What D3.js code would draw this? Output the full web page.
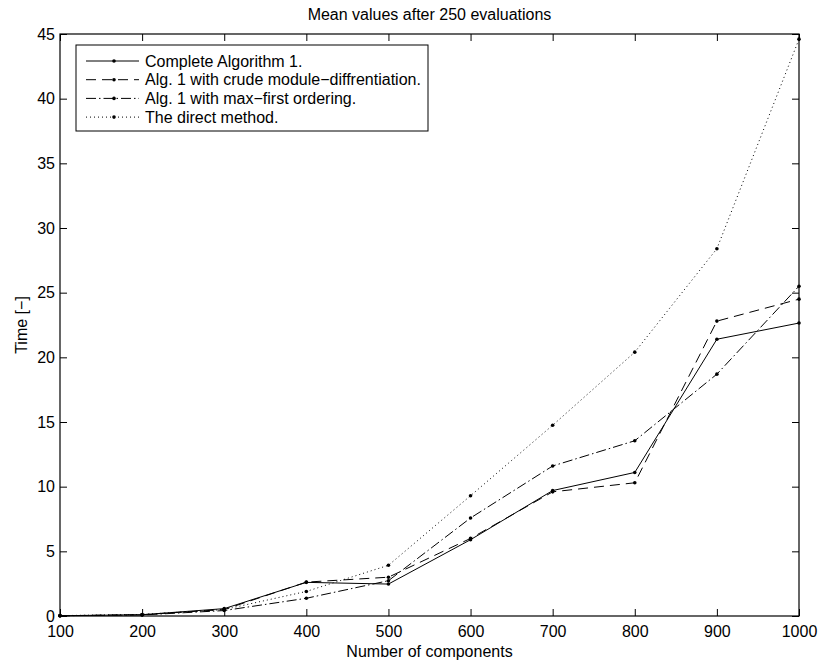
<!DOCTYPE html>
<html>
<head>
<meta charset="utf-8">
<script src="https://cdn.jsdelivr.net/npm/d3@7"></script>
<style>
  html, body { margin: 0; padding: 0; background: #fff; }
  svg { display: block; font-family: "Liberation Sans", Arial, Helvetica, sans-serif; }
</style>
</head>
<body>
<svg id="chart" width="820" height="666"></svg>
<script>
// Problem sizes (number of components)
const components = [100, 200, 300, 400, 500, 600, 700, 800, 900, 1000];

// Mean run times [-] for each method
const completeAlg = [0.02, 0.10, 0.57, 2.60, 2.47, 5.90, 9.70, 11.10, 21.40, 22.65];
const crudeModule = [0.02, 0.10, 0.50, 2.62, 3.00, 6.00, 9.60, 10.30, 22.80, 24.50];
const maxFirst    = [0.02, 0.08, 0.42, 1.37, 2.73, 7.58, 11.60, 13.55, 18.70, 25.50];
const directMethod = [0.03, 0.12, 0.50, 1.90, 3.92, 9.30, 14.75, 20.40, 28.40, 44.60];

const seriesNames = [
  "Complete Algorithm 1.",
  "Alg. 1 with crude module\u2212diffrentiation.",
  "Alg. 1 with max\u2212first ordering.",
  "The direct method."
];

const xTicks = [100, 200, 300, 400, 500, 600, 700, 800, 900, 1000];
const yTicks = [0, 5, 10, 15, 20, 25, 30, 35, 40, 45];

const titleText = "Mean values after 250 evaluations";
const xLabel = "Number of components";
const yLabel = "Time [\u2212]";

const series = [
  { name: seriesNames[0], values: completeAlg, dash: null },
  { name: seriesNames[1], values: crudeModule, dash: "10,6" },
  { name: seriesNames[2], values: maxFirst, dash: "10,3,1.5,3" },
  { name: seriesNames[3], values: directMethod, dash: "1,3" }
];

const svg = d3.select("#chart");
const margin = { left: 60, right: 21, top: 34, bottom: 50 };
const W = 820, H = 666;
const x = d3.scaleLinear().domain([100, 1000]).range([margin.left, W - margin.right]);
const y = d3.scaleLinear().domain([0, 45]).range([H - margin.bottom, margin.top]);

svg.append("rect").attr("width", W).attr("height", H).attr("fill", "#fff");

// Axes with inward ticks on all four sides
const tickLen = 7;
const fontSize = 16;
const axB = svg.append("g").attr("transform", `translate(0,${y(0)})`)
  .call(d3.axisBottom(x).tickValues(xTicks).tickSizeInner(-tickLen).tickSizeOuter(0).tickPadding(10).tickFormat(d3.format("d")));
const axT = svg.append("g").attr("transform", `translate(0,${y(45)})`)
  .call(d3.axisTop(x).tickValues(xTicks).tickSizeInner(-tickLen).tickSizeOuter(0).tickFormat(""));
const axL = svg.append("g").attr("transform", `translate(${x(100)},0)`)
  .call(d3.axisLeft(y).tickValues(yTicks).tickSizeInner(-tickLen).tickSizeOuter(0).tickPadding(5).tickFormat(d3.format("d")));
const axR = svg.append("g").attr("transform", `translate(${x(1000)},0)`)
  .call(d3.axisRight(y).tickValues(yTicks).tickSizeInner(-tickLen).tickSizeOuter(0).tickFormat(""));

[axB, axT, axL, axR].forEach(g => {
  g.select(".domain").remove();
  g.selectAll(".tick line").attr("stroke", "#000").attr("stroke-width", 1);
  g.selectAll(".tick text").attr("fill", "#000").attr("font-size", fontSize)
    .attr("font-family", "'Liberation Sans', Arial, sans-serif");
});
axB.selectAll(".tick text").attr("dy", "0.71em");

// Data lines
const line = d3.line().x((d, i) => x(components[i])).y(d => y(d));
const plot = svg.append("g");
series.forEach(s => {
  plot.append("path").datum(s.values)
    .attr("d", line)
    .attr("fill", "none")
    .attr("stroke", "#000")
    .attr("stroke-width", 1)
    .attr("stroke-dasharray", s.dash);
  plot.selectAll(null).data(s.values).enter().append("circle")
    .attr("cx", (d, i) => x(components[i]))
    .attr("cy", d => y(d))
    .attr("r", 1.8)
    .attr("fill", "#000");
});

// Plot frame
svg.append("rect")
  .attr("x", x(100)).attr("y", y(45))
  .attr("width", x(1000) - x(100)).attr("height", y(0) - y(45))
  .attr("fill", "none").attr("stroke", "#000").attr("stroke-width", 1.2);

// Title and axis labels
svg.append("text").attr("x", (x(100) + x(1000)) / 2).attr("y", 20)
  .attr("text-anchor", "middle").attr("font-size", fontSize).text(titleText);
svg.append("text").attr("x", (x(100) + x(1000)) / 2).attr("y", 657)
  .attr("text-anchor", "middle").attr("font-size", fontSize).text(xLabel);
svg.append("text").attr("transform", `translate(27,${(y(0) + y(45)) / 2}) rotate(-90)`)
  .attr("text-anchor", "middle").attr("font-size", fontSize).text(yLabel);

// Legend
const lg = svg.append("g");
const lgX = 76, lgY = 45, lgW = 352, lgH = 86, rowH = 18.7;
lg.append("rect").attr("x", lgX).attr("y", lgY).attr("width", lgW).attr("height", lgH)
  .attr("fill", "#fff").attr("stroke", "#000").attr("stroke-width", 1);
series.forEach((s, i) => {
  const cy = lgY + 16 + i * rowH;
  lg.append("line").attr("x1", 86).attr("x2", 139).attr("y1", cy).attr("y2", cy)
    .attr("stroke", "#000").attr("stroke-width", 1).attr("stroke-dasharray", s.dash);
  lg.append("circle").attr("cx", 114).attr("cy", cy).attr("r", 1.8).attr("fill", "#000");
  lg.append("text").attr("x", 145).attr("y", cy).attr("dy", "0.36em")
    .attr("font-size", fontSize).text(s.name);
});
</script>
</body>
</html>
